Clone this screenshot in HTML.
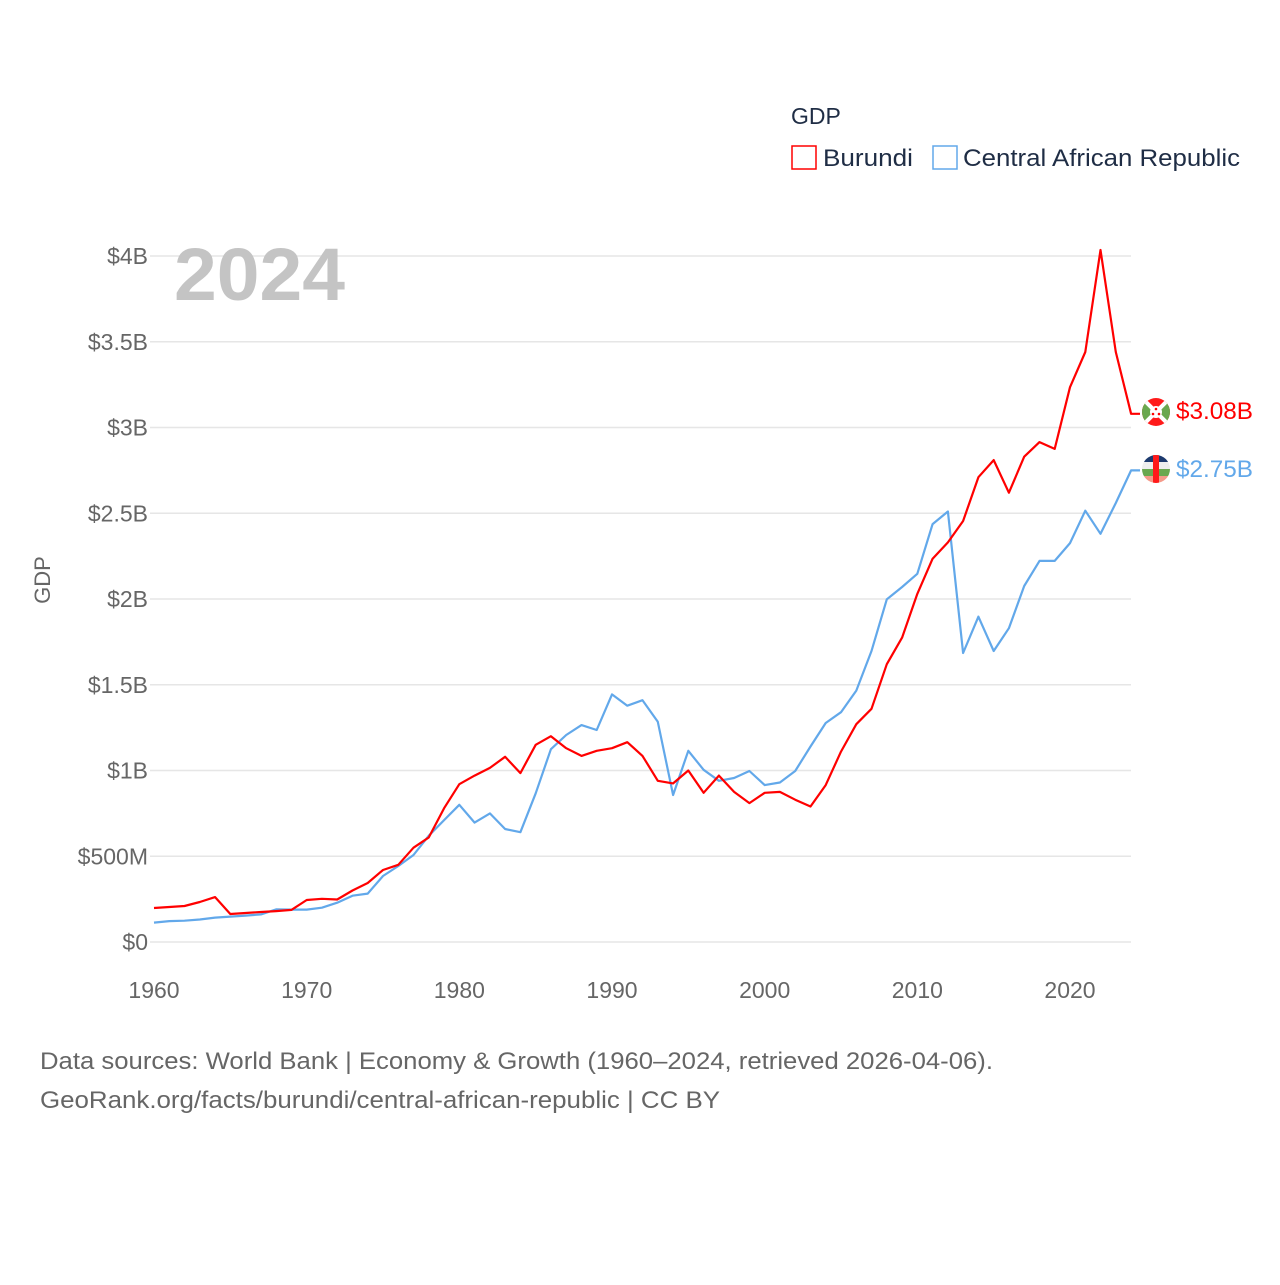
<!DOCTYPE html>
<html><head><meta charset="utf-8"><style>
html,body{margin:0;padding:0;background:#fff;}
body{width:1280px;height:1280px;overflow:hidden;font-family:"Liberation Sans",sans-serif;}
</style></head><body>
<svg id="chart" width="1280" height="1280" xmlns="http://www.w3.org/2000/svg" font-family="Liberation Sans, sans-serif">
<defs>
<clipPath id="c1"><circle cx="1156" cy="412" r="14"/></clipPath>
<clipPath id="c2"><circle cx="1156" cy="469" r="14"/></clipPath>
</defs>
<g id="grid"></g>
<g id="yticks"></g>
<g id="xticks"></g>
<text x="174" y="300" font-size="74" font-weight="bold" fill="#c4c4c4" textLength="171" lengthAdjust="spacingAndGlyphs">2024</text>
<text transform="translate(50,580) rotate(-90)" text-anchor="middle" font-size="22" fill="#666">GDP</text>
<g>
<text x="791" y="124" font-size="23" fill="#1f2d45">GDP</text>
<rect x="792" y="146" width="24" height="23" fill="none" stroke="#ff0000" stroke-width="1.5"/>
<text x="823" y="166" font-size="24" fill="#1f2d45" textLength="90" lengthAdjust="spacingAndGlyphs">Burundi</text>
<rect x="933" y="146" width="24" height="23" fill="none" stroke="#62a8ea" stroke-width="1.5"/>
<text x="963" y="166" font-size="24" fill="#1f2d45" textLength="277" lengthAdjust="spacingAndGlyphs">Central African Republic</text>
</g>
<g id="series"></g>
<g clip-path="url(#c1)">
<rect x="1140" y="396" width="32" height="32" fill="#ff1a1a"/>
<polygon points="1140,398 1156,412 1140,426" fill="#6aa84f"/>
<polygon points="1172,398 1156,412 1172,426" fill="#6aa84f"/>
<path d="M1140,396 L1172,428 M1172,396 L1140,428" stroke="#fff" stroke-width="4"/>
<circle cx="1156" cy="412" r="6" fill="#fff"/>
<circle cx="1156" cy="409" r="1.3" fill="#f00"/><circle cx="1153" cy="414" r="1.3" fill="#f00"/><circle cx="1159" cy="414" r="1.3" fill="#f00"/>
</g>
<g clip-path="url(#c2)">
<rect x="1140" y="455" width="32" height="7" fill="#1d3a6e"/>
<rect x="1140" y="462" width="32" height="7" fill="#eee"/>
<rect x="1140" y="469" width="32" height="7" fill="#6aa84f"/>
<rect x="1140" y="476" width="32" height="8" fill="#f59a8a"/>
<rect x="1153" y="455" width="6" height="30" fill="#ff1a1a"/>
</g>
<text x="1176" y="419" font-size="24" fill="#ff0000" textLength="77" lengthAdjust="spacingAndGlyphs">$3.08B</text>
<text x="1176" y="477" font-size="24" fill="#62a8ea" textLength="77" lengthAdjust="spacingAndGlyphs">$2.75B</text>
<text x="40" y="1069" font-size="24" fill="#666" textLength="953" lengthAdjust="spacingAndGlyphs">Data sources: World Bank | Economy &amp; Growth (1960–2024, retrieved 2026-04-06).</text>
<text x="40" y="1108" font-size="24" fill="#666" textLength="680" lengthAdjust="spacingAndGlyphs">GeoRank.org/facts/burundi/central-african-republic | CC BY</text>
</svg>
<script>
const years = [];
for (let y = 1960; y <= 2024; y++) years.push(y);
const burundi = [0.198,0.204,0.21,0.233,0.262,0.163,0.169,0.175,0.18,0.187,0.245,0.252,0.248,0.30,0.344,0.42,0.45,0.55,0.61,0.78,0.92,0.97,1.015,1.08,0.985,1.15,1.20,1.13,1.085,1.115,1.13,1.165,1.085,0.94,0.925,1.0,0.87,0.97,0.875,0.81,0.87,0.875,0.83,0.79,0.915,1.11,1.27,1.36,1.62,1.775,2.03,2.235,2.33,2.455,2.71,2.81,2.62,2.83,2.915,2.875,3.235,3.44,4.035,3.44,3.08];
const car = [0.113,0.122,0.124,0.131,0.142,0.148,0.154,0.161,0.19,0.189,0.189,0.2,0.229,0.27,0.282,0.385,0.443,0.507,0.62,0.711,0.8,0.696,0.75,0.659,0.64,0.867,1.124,1.207,1.265,1.236,1.444,1.378,1.41,1.284,0.857,1.115,1.004,0.94,0.956,0.997,0.915,0.93,0.997,1.14,1.277,1.34,1.466,1.697,1.998,2.07,2.147,2.437,2.51,1.685,1.897,1.697,1.83,2.076,2.222,2.222,2.326,2.515,2.38,2.56,2.75];
const yTickVals = [0,0.5,1,1.5,2,2.5,3,3.5,4];
const yTickLabels = ["$0","$500M","$1B","$1.5B","$2B","$2.5B","$3B","$3.5B","$4B"];
const xTickVals = [1960,1970,1980,1990,2000,2010,2020];

const NS = "http://www.w3.org/2000/svg";
const xs = y => 154 + (y - 1960) * (1070 - 154) / 60;
const ys = v => 942 - v * (942 - 256) / 4;
function mk(tag, attrs, parent) {
  const e = document.createElementNS(NS, tag);
  for (const k in attrs) e.setAttribute(k, attrs[k]);
  parent.appendChild(e);
  return e;
}
const grid = document.getElementById('grid');
const yt = document.getElementById('yticks');
yTickVals.forEach((v, i) => {
  const l = mk('line', {x1: 150, x2: 1131, y1: ys(v), y2: ys(v), stroke: '#e6e6e6', 'stroke-width': 1.5}, grid);
  
  
  const t = mk('text', {x: 148, y: ys(v) + 8, 'text-anchor': 'end', 'font-size': 23, fill: '#666'}, yt);
  t.textContent = yTickLabels[i];
  
  
});
const xt = document.getElementById('xticks');
xTickVals.forEach(v => {
  const t = mk('text', {x: xs(v), y: 998, 'text-anchor': 'middle', 'font-size': 23, fill: '#666'}, xt);
  t.textContent = v;
  
  
});
const sg = document.getElementById('series');
function line(vals, color, name) {
  let d = vals.map((v, i) => (i ? 'L' : 'M') + xs(years[i]).toFixed(1) + ',' + ys(v).toFixed(1)).join(' ');
  d += ' L1140,' + ys(vals[vals.length - 1]).toFixed(1);
  const p = mk('path', {d: d, fill: 'none', stroke: color, 'stroke-width': 2.2, 'stroke-linejoin': 'round'}, sg);
  
  
}
line(car, '#62a8ea', 'car-gdp-line');
line(burundi, '#ff0000', 'burundi-gdp-line');
</script>
</body></html>
